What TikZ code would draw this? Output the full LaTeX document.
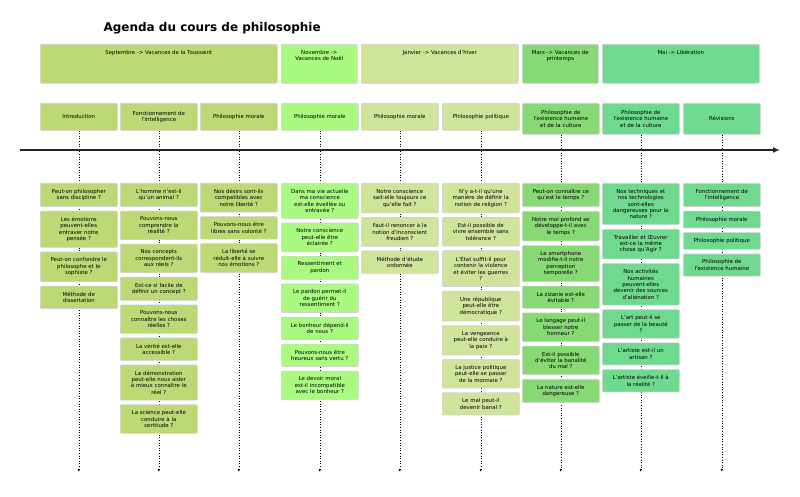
\documentclass[tikz,border=0pt]{standalone}
\usepackage{fontspec}
\setmainfont{DejaVu Sans}
\usetikzlibrary{positioning}
\usetikzlibrary{arrows.meta}
\usetikzlibrary{backgrounds}
\definecolor{sept}{RGB}{189,217,118}
\definecolor{nov}{RGB}{170,250,130}
\definecolor{janv}{RGB}{207,227,154}
\definecolor{mars}{RGB}{134,217,116}
\definecolor{mai}{RGB}{111,217,143}
\begin{document}
\begin{tikzpicture}[x=1pt,y=-1pt,
box/.style={draw=black!18,line width=0.6pt,rounded corners=1pt,font=\fontsize{5.4}{6.4}\selectfont},
period/.style={box,anchor=north west,inner sep=0pt,minimum height=39pt},
topic/.style={box,anchor=north west,text width=73pt,align=center,inner xsep=2pt,inner ysep=0pt},
item/.style={box,text width=73pt,align=center,inner xsep=2pt,inner ysep=5.8pt},
timeline/.style={dotted,line width=0.6pt,-{Latex[length=3pt,width=2.5pt]}}]
\useasboundingbox (0,0) rectangle (800,497);
\node[anchor=west,font=\bfseries\fontsize{12}{14}\selectfont] (title) at (100,28) {Agenda du cours de philosophie};
%==================
\node[period,fill=sept] (p1) at (40,44) {\parbox[c][39pt][t]{237pt}{\centering\vspace{6pt}Septembre -> Vacances de la Toussaint}};
\node[period,fill=nov] (p2) at (281,44) {\parbox[c][39pt][t]{76pt}{\centering\vspace{6pt}Novembre ->\\Vacances de Noël}};
\node[period,fill=janv] (p3) at (361,44) {\parbox[c][39pt][t]{157pt}{\centering\vspace{6pt}Janvier -> Vacances d'hiver}};
\node[period,fill=mars] (p4) at (522,44) {\parbox[c][39pt][t]{76pt}{\centering\vspace{6pt}Mars -> Vacances de\\printemps}};
\node[period,fill=mai] (p5) at (602,44) {\parbox[c][39pt][t]{157pt}{\centering\vspace{6pt}Mai -> Libération}};
%==================
\node[topic,fill=sept,minimum height=27pt] (t1) at (40,103) {Introduction};
\node[topic,fill=sept,minimum height=27pt] (t2) at (120,103) {Fonctionnement de\\l'intelligence};
\node[topic,fill=sept,minimum height=27pt] (t3) at (200,103) {Philosophie morale};
\node[topic,fill=nov,minimum height=27pt] (t4) at (281,103) {Philosophie morale};
\node[topic,fill=janv,minimum height=27pt] (t5) at (361,103) {Philosophie morale};
\node[topic,fill=janv,minimum height=27pt] (t6) at (442,103) {Philosophie politique};
\node[topic,fill=mars,minimum height=31pt] (t7) at (522,103) {Philosophie de\\l'existence humaine\\et de la culture};
\node[topic,fill=mai,minimum height=31pt] (t8) at (602,103) {Philosophie de\\l'existence humaine\\et de la culture};
\node[topic,fill=mai,minimum height=31pt] (t9) at (683,103) {Révisions};
% ===================
\coordinate (start) at (20,150);
\coordinate (stop) at (780,150);
\draw[line width=1.3pt,black!85,-{Latex[length=7pt,width=6pt]}] (start) -- (stop);
% ===================
\foreach \c/\col/\list in {
1/sept/{{Peut-on philosopher\\sans discipline ?},{Les émotions\\peuvent-elles\\entraver notre\\pensée ?},{Peut-on confondre le\\philosophe et le\\sophiste ?},{Méthode de\\dissertation}},
2/sept/{{L'homme n'est-il\\qu'un animal ?},{Pouvons-nous\\comprendre la\\réalité ?},{Nos concepts\\correspondent-ils\\aux réels ?},{Est-ce si facile de\\définir un concept ?},{Pouvons-nous\\connaître les choses\\réelles ?},{La vérité est-elle\\accessible ?},{La démonstration\\peut-elle nous aider\\à mieux connaître le\\réel ?},{La science peut-elle\\conduire à la\\certitude ?}},
3/sept/{{Nos désirs sont-ils\\compatibles avec\\notre liberté ?},{Pouvons-nous être\\libres sans volonté ?},{La liberté se\\réduit-elle à suivre\\nos émotions ?}},
4/nov/{{Dans ma vie actuelle\\ma conscience\\est-elle éveillée ou\\entravée ?},{Notre conscience\\peut-elle être\\éclairée ?},{Ressentiment et\\pardon},{Le pardon permet-il\\de guérir du\\ressentiment ?},{Le bonheur dépend-il\\de nous ?},{Pouvons-nous être\\heureux sans vertu ?},{Le devoir moral\\est-il incompatible\\avec le bonheur ?}},
5/janv/{{Notre conscience\\sait-elle toujours ce\\qu'elle fait ?},{Faut-il renoncer à la\\notion d'inconscient\\freudien ?},{Méthode d'étude\\ordonnée}},
6/janv/{{N'y a-t-il qu'une\\manière de définir la\\notion de religion ?},{Est-il possible de\\vivre ensemble sans\\tolérance ?},{L'État suffit-il pour\\contenir la violence\\et éviter les guerres\\?},{Une république\\peut-elle être\\démocratique ?},{La vengeance\\peut-elle conduire à\\la paix ?},{La justice politique\\peut-elle se passer\\de la monnaie ?},{Le mal peut-il\\devenir banal ?}},
7/mars/{{Peut-on connaître ce\\qu'est le temps ?},{Notre moi profond se\\développe-t-il avec\\le temps ?},{Le smartphone\\modifie-t-il notre\\perception\\temporelle ?},{La zizanie est-elle\\évitable ?},{Le langage peut-il\\blesser notre\\honneur ?},{Est-il possible\\d'éviter la banalité\\du mal ?},{La nature est-elle\\dangereuse ?}},
8/mai/{{Nos techniques et\\nos technologies\\sont-elles\\dangereuses pour la\\nature ?},{Travailler et Œuvrer\\est-ce la même\\chose qu'Agir ?},{Nos activités\\humaines\\peuvent-elles\\devenir des sources\\d'aliénation ?},{L'art peut-il se\\passer de la beauté\\?},{L'artiste est-il un\\artisan ?},{L'artiste éveille-t-il à\\la réalité ?}},
9/mai/{{Fonctionnement de\\l'intelligence},{Philosophie morale},{Philosophie politique},{Philosophie de\\l'existence humaine}}}{
  \foreach \txt [count=\i] in \list {
    \pgfmathtruncatemacro\j{\i-1}
    \ifnum\i=1
      \node[item,fill=\col,anchor=north] (q\c\i) at (t\c.south |- 0,183) {\txt};
    \else
      \node[item,fill=\col,below=4pt of q\c\j] (q\c\i) {\txt};
    \fi
  }
  \coordinate (end\c) at (t\c.south |- 0,472);
  \begin{scope}[on background layer]
    \draw[timeline] (t\c) -- (end\c);
  \end{scope}
}
\end{tikzpicture}
\end{document}
